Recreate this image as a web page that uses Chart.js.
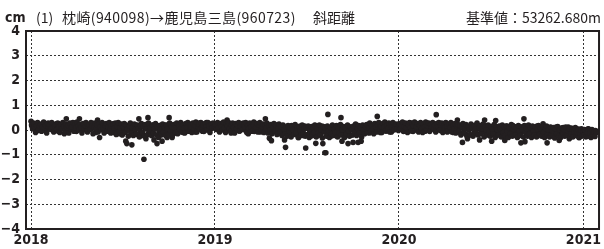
<!DOCTYPE html>
<html>
<head>
<meta charset="utf-8">
<script src="https://cdn.jsdelivr.net/npm/chart.js@4.4.1/dist/chart.umd.min.js"></script>
<style>
html, body { margin: 0; padding: 0; background: #fff; }
canvas { display: block; }
</style>
</head>
<body>
<canvas id="myChart" width="604" height="249"></canvas>
<script>
// tick labels / categories
const yearLabels = ['2018', '2019', '2020', '2021'];
const yearStartDay = [0, 365, 730, 1096]; // days since 2018-01-01
const yTicks = [-4, -3, -2, -1, 0, 1, 2, 3, 4];

// slant distance residuals (cm), even days of each year (Jan 1, Jan 3, ...)
const v2018 = [
  .35,.15,.2,.05,.12,.22,.08,.18,-.02,.14,
  .1,.25,.05,.16,.2,-.04,.12,.28,.08,.15,
  .02,.18,.22,.1,.06,.25,.14,-.05,.2,.1,
  .16,.08,.24,-.15,.12,.45,.05,.2,.1,.18,
  .22,.04,.15,.28,.1,-.06,.18,.12,.45,.08,
  .14,.2,.02,.16,.24,.08,-.08,.18,.12,.22,
  .05,.15,.26,.1,-.1,.18,.4,.06,-.3,.14,
  .2,.08,.12,-.04,.22,.15,.02,.18,.1,-.12,
  .16,.25,.06,-.08,.14,.2,.02,.12,-.15,.18,
  .08,-.05,.22,.1,-.45,-.55,.12,.04,.18,-.1,
  -.6,.15,-.08,.2,.05,-.18,.12,.45,.02,-.1,
  .14,-.2,-1.18,.08,-.35,.1,.5,-.12,.16,.04,
  -.15,.2,-.4,.06,.12,-.55,.1,-.05,.18,-.2,
  -.45,.14,.02,.2,-.08,-.3,.12,.5,-.1,.08,
  -.3,.18,.05,-.12,.22,.1,-.05,.15,.25,.02,
  .12,-.1,.2,.08,.16,-.04,.22,.1,.02,.18,
  .25,.06,.14,-.08,.2,.12,.04,.28,.1,.16,
  -.05,.2,.08,.15,.3,.02,.18,.1,.24,.06,
  .14,.2,.08
];
const v2019 = [
  .15,.08,.22,.12,-.02,.18,.1,.25,.05,.14,
  .2,.08,.4,.12,.02,.18,-.12,.1,.22,.06,
  .14,.25,.05,.16,-.04,.2,.1,.12,.28,.02,
  .18,.08,.14,-.15,.22,.1,.05,.2,.12,-.06,
  .16,.24,.04,.12,.2,-.08,.15,.1,.22,.06,
  .45,.14,.02,.18,-.33,.08,-.43,.2,.1,-.05,
  .12,.04,.2,-.1,.15,.08,-.15,.18,.02,-.4,
  -.7,.1,-.08,.14,-.2,.05,.18,-.12,.08,-.02,
  .12,-.15,.06,-.3,.15,-.05,.1,-.22,.02,.16,
  -.73,.08,-.18,.12,-.05,-.25,.14,.02,-.1,.2,
  -.54,-.08,.1,-.2,.05,-.12,.16,-.55,-.02,-.92,
  -.92,.08,.63,-.15,.02,-.25,.12,-.08,.05,-.18,
  .1,-.05,-.2,.14,-.1,.5,-.45,.06,-.15,.02,
  -.12,.1,-.55,-.02,.12,-.2,.05,-.5,.14,-.08,
  .08,-.15,-.5,.1,-.05,-.45,.15,-.1,.02,.12,
  -.08,.18,.05,-.12,.14,.08,-.02,.2,.1,-.06,
  .15,.55,.04,.12,-.1,.18,.08,.22,.02,.14,
  -.04,.2,.1,.16,.06,-.08,.22,.12,.02,.18,
  .08,.15,-.02
];
const v2020 = [
  .12,.2,.05,.16,.25,.08,-.04,.18,.1,.22,
  .06,.14,.28,.1,-.06,.2,.12,.04,.18,.25,
  .1,.16,.02,.22,.08,.15,-.05,.2,.12,.26,
  .06,.18,.1,.22,.14,.02,.2,.62,.12,.08,
  .16,-.02,.2,.1,.25,.06,.14,.18,-.08,.12,
  .22,.05,.15,.1,-.1,.2,.08,.16,.4,.02,
  .14,-.12,.08,-.5,.18,.05,-.15,.1,-.35,.12,
  .02,.16,-.2,.08,.12,-.1,.2,.04,-.15,.1,
  -.4,.14,-.05,.08,.2,.4,-.12,.06,.15,-.08,
  .1,-.2,-.45,.12,.02,.15,.38,-.1,.05,-.18,
  .08,.14,-.05,-.25,.1,-.42,.02,.16,-.12,.06,
  .12,-.15,.05,.18,-.08,.1,-.2,.02,.14,-.1,
  .06,-.52,.12,-.05,.45,-.47,.08,-.15,.1,-.02,
  .14,-.1,.05,-.18,.1,.02,-.12,.16,-.05,.08,
  -.15,.1,-.02,.25,-.1,.05,.12,-.52,-.08,.02,
  .1,-.12,.04,-.2,.08,-.05,.12,-.15,.02,-.42,
  -.08,.06,-.15,.1,-.02,-.2,.05,-.1,.12,-.35,
  -.05,.08,-.18,.02,-.12,.1,-.08,-.2,.04,-.3,
  -.1,.05,-.15
];
const v2021 = [
  -.08,.02,-.15,-.05,-.2,.05,-.1,-.18,0,-.12,-.06,-.22,-.02,-.1
];

// odd days of each year (Jan 2, Jan 4, ...)
const v2018odd = [
  .2,.05,.28,.12,-.1,.18,.3,.02,.15,.22,
  -.05,.12,.32,.08,.18,-.12,.25,.1,.2,.04,
  .3,.1,-.08,.16,.22,.02,.28,.12,-.1,.2,
  .06,.3,.14,-.02,.24,.1,.18,-.12,.28,.04,
  .12,.3,-.05,.2,.08,.32,.14,0,.22,.1,
  -.12,.26,.06,.18,.3,-.04,.14,.22,.02,.3,
  .16,-.15,.1,.28,.04,.2,-.08,.24,.12,0,
  .3,.06,-.12,.18,.26,-.05,.12,.3,.04,.16,
  -.1,.22,.08,.28,-.18,.14,.3,-.05,.1,.24,
  -.2,.12,.26,-.1,.2,.04,-.25,.16,.28,-.12,
  .1,-.22,.24,.02,-.15,.2,.06,-.28,.18,.26,
  -.1,.14,-.25,.22,.04,-.18,.28,-.05,.1,-.22,
  .2,-.12,.06,.26,-.2,.12,-.3,.18,.02,-.15,
  .24,-.08,.1,-.22,.2,.04,-.18,.28,-.05,.14,
  -.2,.22,.08,-.1,.28,-.15,.16,.02,.3,-.08,
  .18,.06,-.12,.26,.1,.3,-.05,.2,.12,-.1,
  .28,.04,.18,.32,-.08,.14,.24,.02,.3,.1,
  .2,-.06,.26,.12,0,.3,.16,-.1,.22,.08,
  .28,.12
];
const v2019odd = [
  .22,.02,.3,.1,-.08,.26,.14,0,.32,.08,
  -.1,.24,.16,.3,.04,-.06,.2,.28,.1,-.12,
  .26,.06,.18,.3,-.04,.14,.24,.02,.2,.12,
  .3,-.1,.16,.06,.28,.12,-.05,.22,.32,.04,
  .1,.26,-.08,.2,.3,.02,.14,.24,-.1,.18,
  .06,.28,-.12,.16,0,.22,-.15,.1,.26,-.05,
  .2,-.18,.08,.24,-.1,.14,-.22,.2,.02,-.15,
  .12,-.25,.18,-.05,.1,-.28,.16,0,-.18,.22,
  -.1,.08,-.3,.14,-.02,-.2,.2,-.12,.06,-.25,
  .1,-.18,.16,-.3,.04,.12,-.22,.08,-.1,.18,
  -.28,.06,-.12,.2,-.2,.02,-.32,.14,-.08,.1,
  -.25,.16,-.05,-.3,.1,-.15,.2,-.22,.04,-.1,
  .18,-.28,.06,-.12,.22,-.2,0,.14,-.3,.08,
  -.15,.2,-.05,-.25,.12,.02,-.2,.16,-.1,.24,
  -.22,.06,.18,-.12,.1,-.28,.2,0,-.15,.14,
  .22,-.1,.08,.28,-.05,.16,.02,-.15,.26,.1,
  -.08,.2,.3,.04,.14,-.1,.26,.1,.32,-.04,
  .18,.06,.28,-.08,.2,.12,.3,0,.14,.24,
  .04,.22
];
const v2020odd = [
  .26,.04,.18,.32,-.06,.14,.28,.08,-.1,.2,
  .3,.1,-.04,.22,.16,.32,0,.12,.26,-.08,
  .18,.3,.06,-.1,.24,.12,.32,.02,.16,.28,
  -.06,.22,.1,.3,.04,.18,-.08,.26,.14,.3,
  .02,.2,.28,-.1,.16,.08,.3,.12,-.04,.24,
  .1,.3,-.08,.18,.04,.26,-.12,.16,.22,-.05,
  .2,-.2,.12,.26,-.1,.06,.22,-.25,.14,0,
  -.18,.24,.08,-.25,.16,.02,-.12,.28,-.2,.1,
  .18,-.15,.06,.24,-.28,.12,0,-.2,.2,-.08,
  -.25,.14,.04,-.15,.22,-.3,.1,.02,-.2,.16,
  .06,-.28,.2,-.1,.12,-.22,.16,-.05,-.3,.1,
  -.15,.22,-.25,.04,.14,-.2,.08,-.3,.18,-.05,
  -.22,.12,.02,-.28,.18,-.1,.06,-.25,.2,-.15,
  .1,-.3,.16,-.05,-.2,.12,-.28,.04,.18,-.18,
  .08,-.25,.14,-.1,-.3,.06,.16,-.2,0,-.28,
  .12,-.18,-.05,.1,-.32,.04,-.15,.14,-.25,0,
  -.3,.08,-.12,.02,-.25,.12,-.2,-.05,.06,-.3,
  -.15,.04,-.28,-.08,.06,-.22,-.1,.02,-.3,-.12,
  0,-.25,-.05
];
const v2021odd = [
  -.2,0,-.28,-.1,.04,-.25,-.12,-.3,.02,-.18,-.08,-.26,-.05
];
const evenByYear = [v2018, v2019, v2020, v2021];
const oddByYear = [v2018odd, v2019odd, v2020odd, v2021odd];

const titleUnit = 'cm';
const titleNo = '(1)';
const titleLine = '枕崎(940098)→鹿児島三島(960723)';
const titleKind = '斜距離';
const titleBase = '基準値：53262.680m';

const points = [];
yearStartDay.forEach((start, k) => {
    evenByYear[k].forEach((v, i) => points.push({ x: start + 2 * i, y: v }));
    oddByYear[k].forEach((v, i) => points.push({ x: start + 1 + 2 * i, y: v }));
});

const ink = '#231f20';
const tickFont = { family: '"Liberation Sans Narrow", "DejaVu Sans Condensed", sans-serif', size: 14, weight: 'bold' };

const frameAndHeader = {
    id: 'frameAndHeader',
    afterDraw(chart) {
        const c = chart.ctx;
        const a = chart.chartArea;
        c.save();
        c.strokeStyle = ink;
        c.lineWidth = 2;
        c.strokeRect(a.left, a.top, a.right - a.left, a.bottom - a.top);
        c.fillStyle = ink;
        c.textBaseline = 'alphabetic';
        c.font = 'bold 14px "Liberation Sans Narrow", "DejaVu Sans Condensed", sans-serif';
        c.fillText(titleUnit, 5, 22);
        c.font = '14px "Noto Sans CJK JP"';
        c.fillText(titleNo, 36, 23);
        c.letterSpacing = '0.4px';
        c.fillText(titleLine, 62, 23);
        c.letterSpacing = '0px';
        c.fillText(titleKind, 313, 23);
        c.textAlign = 'right';
        c.fillText(titleBase, 601, 23);
        c.restore();
    }
};

const ctx = document.getElementById('myChart').getContext('2d');
let myChart = new Chart(ctx, {
    type: 'scatter',
    data: {
        datasets: [{
            data: points,
            backgroundColor: ink,
            borderWidth: 0,
            pointRadius: 2.8,
            pointHoverRadius: 2.8
        }]
    },
    options: {
        responsive: false,
        animation: false,
        layout: { padding: { top: 31, right: 2, left: 0, bottom: 0 } },
        plugins: {
            legend: { display: false },
            tooltip: { enabled: false }
        },
        scales: {
            x: {
                type: 'linear',
                min: -10,
                max: 1127,
                afterBuildTicks: axis => {
                    axis.ticks = yearStartDay.map(d => ({ value: d }));
                },
                afterFit: axis => { axis.height = 20; },
                ticks: {
                    color: ink,
                    font: tickFont,
                    padding: 3,
                    maxRotation: 0,
                    autoSkip: false,
                    callback: value => yearLabels[yearStartDay.indexOf(value)]
                },
                grid: { color: '#333', lineWidth: 1, drawTicks: false },
                border: { display: false, dash: [2, 2] }
            },
            y: {
                min: -4,
                max: 4,
                afterBuildTicks: axis => {
                    axis.ticks = yTicks.map(v => ({ value: v }));
                },
                afterFit: axis => { axis.width = 26; },
                ticks: {
                    color: ink,
                    font: tickFont,
                    padding: 6,
                    callback: value => String(value).replace('-', '\u2212')
                },
                grid: { color: '#333', lineWidth: 1, drawTicks: false },
                border: { display: false, dash: [2, 2] }
            }
        }
    },
    plugins: [frameAndHeader]
});
</script>
</body>
</html>
